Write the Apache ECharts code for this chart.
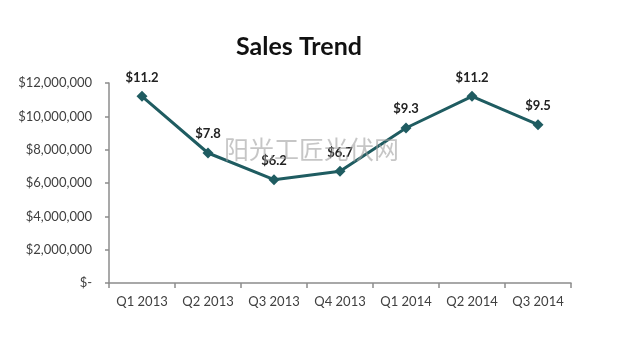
<!DOCTYPE html>
<html><head><meta charset="utf-8">
<script src="https://cdn.jsdelivr.net/npm/echarts@6/dist/echarts.min.js"></script>
<style>html,body{margin:0;padding:0;background:#fff}#c{width:620px;height:344px}</style>
</head><body><div id="c"></div>
<script>
var categories = ['Q1 2013','Q2 2013','Q3 2013','Q4 2013','Q1 2014','Q2 2014','Q3 2014'];
var sales = [11200000, 7800000, 6200000, 6700000, 9300000, 11200000, 9500000];
var yTicks = [0, 2000000, 4000000, 6000000, 8000000, 10000000, 12000000];
var titleText = 'Sales Trend';
var watermark = '阳光工匠光伏网';

var FONT = 'Lato, "Open Sans", sans-serif';
function fmtMoney(v){
  if (v === 0) return '$-';
  return '$' + v.toString().replace(/\B(?=(\d{3})+(?!\d))/g, ',');
}
var chart = echarts.init(document.getElementById('c'));
chart.setOption({
  backgroundColor: '#ffffff',
  animation: false,
  title: {
    text: titleText, left: 294, top: 29, textAlign: 'center',
    textStyle: {fontFamily: FONT, fontWeight: 'bold', fontSize: 25, color: '#111'}
  },
  graphic: [{
    type: 'text', left: 224, top: 137, silent: true, z: 100,
    style: {text: watermark, fontFamily: '"Noto Sans CJK SC", sans-serif', fontSize: 25, fill: 'rgba(160,160,160,0.6)'}
  }],
  grid: {left: 109, right: 49, top: 83, bottom: 61},
  xAxis: {
    type: 'category', data: categories, boundaryGap: true,
    axisLine: {lineStyle: {color: '#8c8c8c', width: 1.5}},
    axisTick: {show: true, length: 5, lineStyle: {color: '#8c8c8c', width: 1.5}},
    axisLabel: {interval: 0, margin: 12, fontFamily: FONT, fontSize: 13, color: '#404040'},
    splitLine: {show: false}
  },
  yAxis: {
    type: 'value', min: yTicks[0], max: yTicks[yTicks.length-1], interval: yTicks[1]-yTicks[0],
    axisLine: {show: true, lineStyle: {color: '#8c8c8c', width: 1.5}},
    axisTick: {show: true, length: 4, lineStyle: {color: '#8c8c8c', width: 1.5}},
    axisLabel: {margin: 17, fontFamily: FONT, fontSize: 13, color: '#404040', formatter: fmtMoney},
    splitLine: {show: false}
  },
  series: [{
    type: 'line', data: sales,
    symbol: 'diamond', symbolSize: 11,
    lineStyle: {color: '#1f5c61', width: 3},
    itemStyle: {color: '#1f5c61'},
    label: {
      show: true, position: 'top', distance: 7,
      fontFamily: FONT, fontWeight: 'bold', fontSize: 13, color: '#222',
      formatter: function(p){ return '$' + (p.value/1e6).toFixed(1); }
    }
  }]
});
</script></body></html>
